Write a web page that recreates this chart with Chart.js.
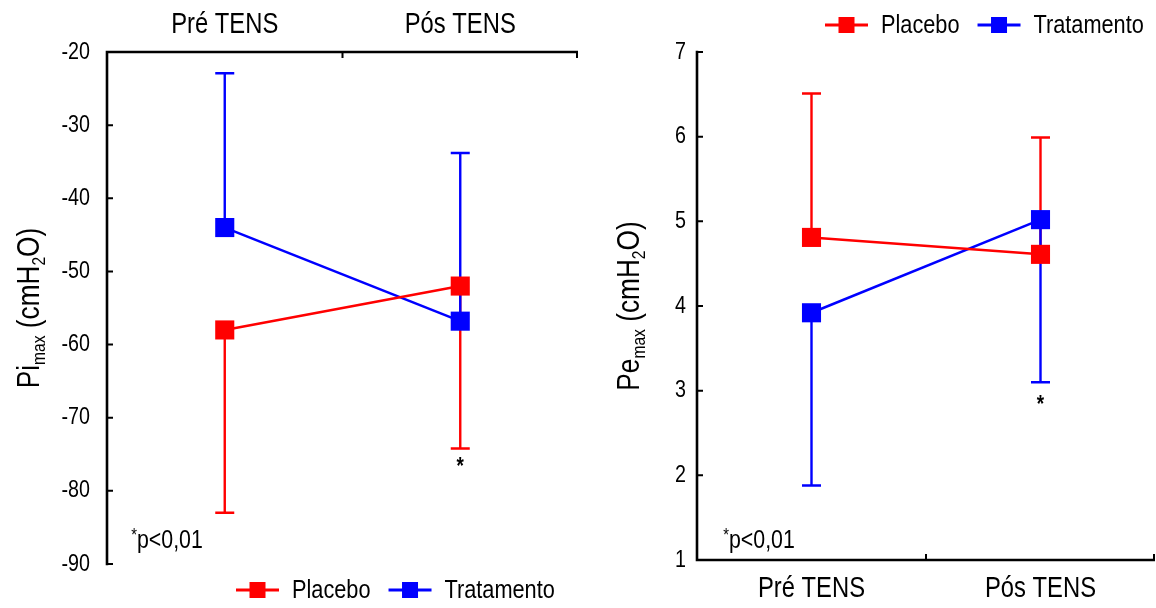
<!DOCTYPE html>
<html><head><meta charset="utf-8">
<script src="https://cdn.jsdelivr.net/npm/chart.js@4.4.1/dist/chart.umd.min.js"></script>
<style>
html,body{margin:0;padding:0;background:#fff;}
#wrap{position:relative;width:1156px;height:608px;overflow:hidden;}
#c1{position:absolute;left:0;top:0;}
#c2{position:absolute;left:580px;top:0;}
</style></head><body>
<div id="wrap">
<canvas id="c1" width="580" height="608"></canvas>
<canvas id="c2" width="576" height="608"></canvas>
</div>
<script>
// ---- data ----
const categories = ['Pré TENS', 'Pós TENS'];
const seriesNames = ['Placebo', 'Tratamento'];
const seriesColors = ['#ff0000', '#0000ff'];

const piPlacebo = [-58, -52];
const piPlaceboErrEnd = [-83, -74.2];
const piTratamento = [-44, -56.8];
const piTratamentoErrEnd = [-22.9, -33.8];
const piTicks = [-90, -80, -70, -60, -50, -40, -30, -20];

const pePlacebo = [4.81, 4.61];
const pePlaceboErrEnd = [6.51, 5.99];
const peTratamento = [3.92, 5.02];
const peTratamentoErrEnd = [1.88, 3.1];
const peTicks = [1, 2, 3, 4, 5, 6, 7];

const pText = 'p<0,01';

// ---- styling ----
const FONT = "'Liberation Sans Narrow','Arial Narrow','Liberation Sans',Arial,sans-serif";
const CONDENSE = 0.82; // emulate a narrow face

function condense(canvas, f) {
  const ctx = canvas.getContext('2d');
  const origFill = ctx.fillText.bind(ctx);
  const origMeasure = ctx.measureText.bind(ctx);
  ctx.fillText = function (text, x, y, maxW) {
    ctx.save();
    ctx.translate(x, y);
    ctx.scale(f, 1);
    origFill(text, 0, 0);
    ctx.restore();
  };
  ctx.measureText = function (text) {
    const m = origMeasure(text);
    return {
      width: m.width * f,
      actualBoundingBoxLeft: m.actualBoundingBoxLeft * f,
      actualBoundingBoxRight: m.actualBoundingBoxRight * f,
      actualBoundingBoxAscent: m.actualBoundingBoxAscent,
      actualBoundingBoxDescent: m.actualBoundingBoxDescent,
      fontBoundingBoxAscent: m.fontBoundingBoxAscent,
      fontBoundingBoxDescent: m.fontBoundingBoxDescent
    };
  };
}

function makeDatasets(vals, ends) {
  return vals.map((v, i) => ({
    label: seriesNames[i],
    data: v,
    errEnd: ends[i],
    borderColor: seriesColors[i],
    backgroundColor: seriesColors[i],
    pointBackgroundColor: seriesColors[i],
    pointBorderColor: seriesColors[i],
    pointBorderWidth: 0,
    pointStyle: 'rect',
    pointRadius: 13.5,
    pointHoverRadius: 13.5,
    borderWidth: 2.5,
    tension: 0,
    fill: false,
    clip: false
  }));
}

function drawRich(ctx, parts, cx, cy) {
  let total = 0;
  parts.forEach(p => { ctx.font = p.size + 'px ' + FONT; p.w = ctx.measureText(p.t).width; total += p.w; });
  let x = cx - total / 2;
  ctx.textAlign = 'left';
  ctx.textBaseline = 'alphabetic';
  parts.forEach(p => {
    ctx.font = p.size + 'px ' + FONT;
    ctx.fillText(p.t, x, cy + (p.dy || 0));
    x += p.w;
  });
}

const customPlugin = {
  id: 'custom',
  beforeDatasetsDraw(chart) {
    const { ctx, scales: { x, y } } = chart;
    ctx.save();
    ctx.lineWidth = 2.4;
    chart.data.datasets.forEach(ds => {
      ctx.strokeStyle = ds.borderColor;
      ds.data.forEach((v, j) => {
        const px = x.getPixelForValue(j);
        const py = y.getPixelForValue(v);
        const pe = y.getPixelForValue(ds.errEnd[j]);
        ctx.beginPath();
        ctx.moveTo(px, py); ctx.lineTo(px, pe);
        ctx.moveTo(px - 9.5, pe); ctx.lineTo(px + 9.5, pe);
        ctx.stroke();
      });
    });
    ctx.restore();
  },
  afterDraw(chart, args, o) {
    const { ctx, chartArea: a, scales: { x, y } } = chart;
    ctx.save();
    // axes
    ctx.strokeStyle = '#000';
    ctx.lineWidth = 2.6;
    const xy = o.xPos === 'top' ? a.top : a.bottom;
    ctx.beginPath();
    ctx.moveTo(a.left, a.top - 1.3); ctx.lineTo(a.left, a.bottom + 1.3);
    ctx.moveTo(a.left - 1.3, xy); ctx.lineTo(a.right, xy);
    ctx.stroke();
    // inward ticks
    ctx.lineWidth = 2;
    ctx.beginPath();
    y.ticks.forEach(t => {
      const py = y.getPixelForValue(t.value);
      ctx.moveTo(a.left, py); ctx.lineTo(a.left + 6, py);
    });
    const dir = o.xPos === 'top' ? 1 : -1;
    [x.getPixelForValue(0.5), a.right - 1].forEach(px => {
      ctx.moveTo(px, xy); ctx.lineTo(px, xy + dir * 6);
    });
    ctx.stroke();

    // star under error bar
    ctx.fillStyle = '#000';
    ctx.textAlign = 'center';
    ctx.textBaseline = 'middle';
    ctx.font = 'bold 23px ' + FONT;
    const sds = chart.data.datasets[o.starSeries];
    const sIdx = 1;
    ctx.fillText('*', x.getPixelForValue(sIdx), y.getPixelForValue(sds.errEnd[sIdx]) + o.starGap);

    // p text
    drawRich(ctx, [{ t: '*', size: 18, dy: -7 }, { t: pText, size: 26 }], a.left + o.pDx, o.pY);

    // legend
    let lx = o.legendX;
    const ly = o.legendY;
    chart.data.datasets.forEach(ds => {
      ctx.strokeStyle = ds.borderColor;
      ctx.fillStyle = ds.borderColor;
      ctx.lineWidth = 3;
      ctx.beginPath(); ctx.moveTo(lx, ly); ctx.lineTo(lx + 43, ly); ctx.stroke();
      ctx.fillRect(lx + 21.5 - 8, ly - 8, 16, 16);
      ctx.fillStyle = '#000';
      ctx.font = '26.5px ' + FONT;
      ctx.textAlign = 'left';
      ctx.textBaseline = 'middle';
      const tx = lx + 43 + 13;
      ctx.fillText(ds.label, tx, ly + 1);
      lx = tx + ctx.measureText(ds.label).width + 18;
    });

    // y title (rotated)
    ctx.save();
    ctx.translate(o.titleX, (a.top + a.bottom) / 2);
    ctx.rotate(-Math.PI / 2);
    ctx.fillStyle = '#000';
    drawRich(ctx, o.titleParts, 0, 11);
    ctx.restore();

    ctx.restore();
  }
};

function makeChart(id, vals, ends, yMin, yMax, tickVals, o, xPos, pad, yW, xH) {
  const canvas = document.getElementById(id);
  condense(canvas, CONDENSE);
  return new Chart(canvas, {
    type: 'line',
    data: { labels: categories, datasets: makeDatasets(vals, ends) },
    options: {
      responsive: false,
      animation: false,
      events: [],
      layout: { padding: pad, autoPadding: false },
      plugins: { legend: { display: false }, tooltip: { enabled: false }, custom: o },
      scales: {
        x: {
          type: 'category', position: xPos, offset: true,
          grid: { display: false, drawTicks: false }, border: { display: false },
          ticks: { color: '#000', font: { family: FONT, size: 29 }, padding: o.xPad, maxRotation: 0 },
          afterFit(s) { s.height = xH; s.paddingLeft = 0; s.paddingRight = 0; }
        },
        y: {
          type: 'linear', min: yMin, max: yMax,
          grid: { display: false, drawTicks: false }, border: { display: false },
          afterBuildTicks(s) { s.ticks = tickVals.map(v => ({ value: v })); },
          ticks: { color: '#000', font: { family: FONT, size: 24 }, padding: o.yPad },
          afterFit(s) { s.width = yW; s.paddingTop = 0; s.paddingBottom = 0; }
        }
      }
    },
    plugins: [customPlugin]
  });
}

makeChart('c1', [piPlacebo, piTratamento], [piPlaceboErrEnd, piTratamentoErrEnd], -90, -20, piTicks, {
  xPos: 'top', xPad: 10, yPad: 17, starSeries: 0, starGap: 19, pDx: 60, pY: 548,
  legendX: 236, legendY: 590, titleX: 28,
  titleParts: [{ t: 'Pi', size: 32 }, { t: 'max', size: 19, dy: 6 }, { t: ' (cmH', size: 32 }, { t: '2', size: 19, dy: 6 }, { t: 'O)', size: 32 }]
}, 'top', { left: 0, right: 2, top: 0, bottom: 44 }, 107, 52);

makeChart('c2', [pePlacebo, peTratamento], [pePlaceboErrEnd, peTratamentoErrEnd], 1, 7, peTicks, {
  xPos: 'bottom', xPad: 12, yPad: 11, starSeries: 1, starGap: 23, pDx: 62, pY: 548,
  legendX: 245, legendY: 25, titleX: 48,
  titleParts: [{ t: 'Pe', size: 32 }, { t: 'max', size: 19, dy: 6 }, { t: ' (cmH', size: 32 }, { t: '2', size: 19, dy: 6 }, { t: 'O)', size: 32 }]
}, 'bottom', { left: 0, right: 1, top: 52, bottom: 0 }, 117, 48);
</script>
</body></html>
